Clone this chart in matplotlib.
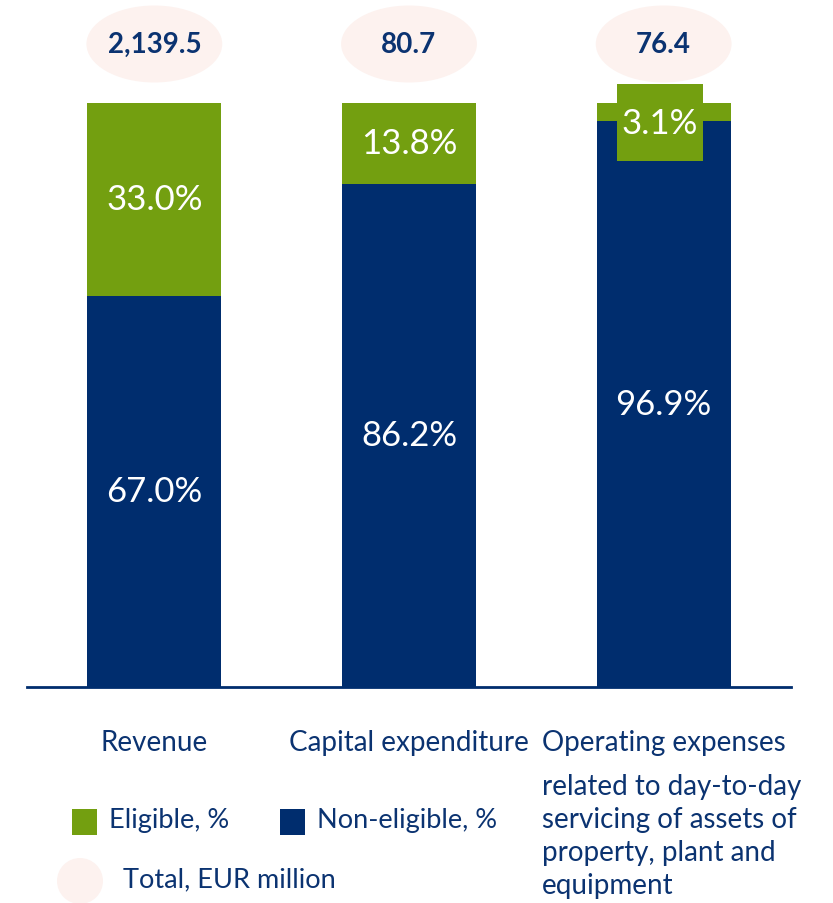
import matplotlib
matplotlib.use("Agg")
import matplotlib.pyplot as plt
from matplotlib.patches import Ellipse, Rectangle

plt.rcParams['font.family'] = ['Lato', 'DejaVu Sans']

categories = ["Revenue", "Capital expenditure", "Operating expenses"]
eligible = [33.0, 13.8, 3.1]
non_eligible = [67.0, 86.2, 96.9]
totals = ["2,139.5", "80.7", "76.4"]
opex_note = "related to day-to-day\nservicing of assets of\nproperty, plant and\nequipment"

GREEN = "#739f10"
NAVY = "#002d6e"
TEXT = "#0b3371"
PINK = "#fdf2ef"

W, H = 833, 904
fig = plt.figure(figsize=(W / 100, H / 100), dpi=100)
# axes: x from 27 to 791 px, baseline at y=688 px, top at image top
ax = fig.add_axes([27 / W, 1 - 688 / H, (791 - 27) / W, 688 / H])
ytop = 100 * 688 / 584
ax.set_xlim(-0.5, 2.5)
ax.set_ylim(0, ytop)
for s in ["top", "right", "left"]:
    ax.spines[s].set_visible(False)
ax.spines["bottom"].set_color(NAVY)
ax.spines["bottom"].set_linewidth(2)
ax.set_xticks([])
ax.set_yticks([])

x = range(len(categories))
bw = 0.525
ax.bar(x, non_eligible, bw, color=NAVY, zorder=2)
ax.bar(x, eligible, bw, bottom=non_eligible, color=GREEN, zorder=2)

pct_kw = dict(ha="center", va="center", color="white", fontsize=25, zorder=4)
for i in x:
    if eligible[i] > 5:
        ax.text(i, non_eligible[i] + eligible[i] / 2, f"{eligible[i]:.1f}%", **pct_kw)
    else:
        # small segment: label sits on a green tab over the bar top
        top = non_eligible[i] + eligible[i]
        ax.add_patch(Rectangle((i - 0.185, top - 9.9), 0.34, 13.2,
                               fc=GREEN, ec="none", zorder=3, clip_on=False))
        ax.text(i - 0.015, top - 3.4, f"{eligible[i]:.1f}%", **pct_kw)
    ax.text(i, non_eligible[i] / 2, f"{non_eligible[i]:.1f}%", **pct_kw)
    # total bubble
    ax.add_patch(Ellipse((i, (688 - 45) / 5.84), 136 / 255, 77 / 5.84,
                         fc=PINK, ec="none", clip_on=False, zorder=1))
    ax.text(i, (688 - 45) / 5.84, totals[i], ha="center", va="center",
            color=TEXT, fontsize=20, fontweight="bold", zorder=3, clip_on=False)

# category labels
tr = ax.get_xaxis_transform()
for i, c in enumerate(categories):
    ax.text(i, -(743 - 688) / 688, c, transform=tr, ha="center", va="center",
            color=TEXT, fontsize=20, clip_on=False)
fig.text(542 / W, 1 - 774 / H, opex_note, ha="left", va="top", color=TEXT,
         fontsize=20, linespacing=1.33)

# legend
fig.patches.append(Rectangle((72 / W, 1 - 836 / H), 25 / W, 26 / H, fc=GREEN, ec="none",
                             transform=fig.transFigure))
fig.text(109 / W, 1 - 821 / H, "Eligible, %", ha="left", va="center", color=TEXT, fontsize=19.5)
fig.patches.append(Rectangle((280 / W, 1 - 836 / H), 25 / W, 26 / H, fc=NAVY, ec="none",
                             transform=fig.transFigure))
fig.text(317 / W, 1 - 821 / H, "Non-eligible, %", ha="left", va="center", color=TEXT, fontsize=19.5)
fig.patches.append(Ellipse((80 / W, 1 - 882 / H), 46 / W, 46 / H, fc=PINK, ec="none",
                           transform=fig.transFigure))
fig.text(123 / W, 1 - 880 / H, "Total, EUR million", ha="left", va="center", color=TEXT, fontsize=19.5)

fig.savefig("out.png", dpi=100)
